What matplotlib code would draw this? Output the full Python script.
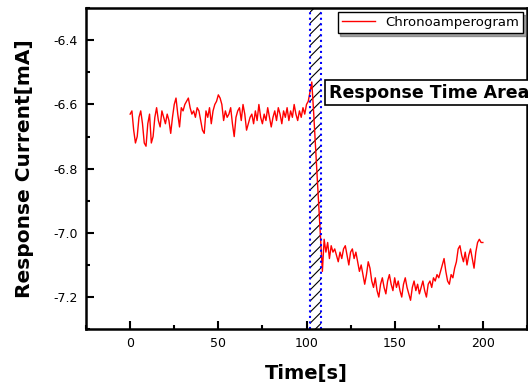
import numpy as np
import matplotlib
matplotlib.use("Agg")
import matplotlib.pyplot as plt
from matplotlib.ticker import MultipleLocator

# time axis, one sample per second
time_s = np.arange(0, 201)

# chronoamperogram current [mA]
current_ma = [
    -6.63, -6.62, -6.68, -6.72, -6.70, -6.64, -6.62, -6.66, -6.72, -6.73,
    -6.66, -6.63, -6.72, -6.70, -6.64, -6.61, -6.65, -6.67, -6.62, -6.64,
    -6.66, -6.63, -6.65, -6.69, -6.64, -6.60, -6.58, -6.63, -6.67, -6.61,
    -6.62, -6.60, -6.59, -6.58, -6.61, -6.63, -6.62, -6.64, -6.61, -6.62,
    -6.65, -6.68, -6.69, -6.62, -6.64, -6.61, -6.66, -6.62, -6.60, -6.59,
    -6.57, -6.58, -6.60, -6.65, -6.62, -6.64, -6.63, -6.61, -6.66, -6.70,
    -6.64, -6.62, -6.61, -6.65, -6.60, -6.63, -6.68, -6.66, -6.64, -6.63,
    -6.66, -6.62, -6.65, -6.60, -6.64, -6.66, -6.63, -6.65, -6.61, -6.64,
    -6.67, -6.64, -6.62, -6.65, -6.61, -6.63, -6.66, -6.62, -6.64, -6.61,
    -6.65, -6.62, -6.64, -6.60, -6.63, -6.65, -6.62, -6.64, -6.61, -6.63,
    -6.60, -6.59, -6.56, -6.53, -6.62, -6.72, -6.82, -6.92, -7.02, -7.12,
    -7.02, -7.06, -7.03, -7.08, -7.04, -7.06, -7.05, -7.07, -7.09, -7.06,
    -7.08, -7.05, -7.04, -7.07, -7.10, -7.06, -7.05, -7.08, -7.06, -7.09,
    -7.12, -7.10, -7.13, -7.16, -7.13, -7.09, -7.11, -7.15, -7.17, -7.14,
    -7.18, -7.20, -7.16, -7.14, -7.17, -7.19, -7.15, -7.13, -7.16, -7.18,
    -7.14, -7.17, -7.15, -7.18, -7.20, -7.16, -7.14, -7.17, -7.19, -7.21,
    -7.17, -7.15, -7.18, -7.16, -7.19, -7.17, -7.15, -7.18, -7.20, -7.16,
    -7.15, -7.17, -7.14, -7.15, -7.13, -7.14, -7.12, -7.10, -7.08, -7.12,
    -7.15, -7.16, -7.13, -7.14, -7.11, -7.09, -7.05, -7.04, -7.07, -7.09,
    -7.06, -7.10, -7.07, -7.05, -7.08, -7.11, -7.06, -7.03, -7.02, -7.03,
    -7.03,
]

# response time window [s]
response_start = 102
response_end = 108.5

plt.rcParams['font.family'] = ['DejaVu Sans']
plt.rcParams['hatch.linewidth'] = 0.8

fig = plt.figure(figsize=(5.28, 3.9), dpi=100)
ax = fig.add_axes([0.163, 0.156, 0.835, 0.823])

ax.plot(time_s, current_ma, color='red', lw=1.0, label='Chronoamperogram')

# hatched response time area with dotted blue borders
ax.axvspan(response_start, response_end, fill=False, hatch='///',
           edgecolor='black', linewidth=0)
ax.axvline(response_start, color='blue', ls=':', lw=1.5)
ax.axvline(response_end, color='blue', ls=':', lw=1.5)

ax.text(112.5, -6.563, 'Response Time Area', fontsize=12.5, fontweight='bold',
        va='center', ha='left',
        bbox=dict(boxstyle='square,pad=0.2', facecolor='white',
                  edgecolor='black', lw=1.2))

ax.set_xlim(-25, 225)
ax.set_ylim(-7.3, -6.3)
ax.xaxis.set_major_locator(MultipleLocator(50))
ax.xaxis.set_minor_locator(MultipleLocator(25))
ax.yaxis.set_major_locator(MultipleLocator(0.2))
ax.yaxis.set_minor_locator(MultipleLocator(0.1))
ax.yaxis.set_major_formatter(plt.FormatStrFormatter('%.1f'))

ax.tick_params(which='both', direction='in', width=1.5, labelsize=9)
ax.tick_params(axis='x', which='major', pad=6)
ax.tick_params(axis='y', which='major', pad=6)
ax.tick_params(which='major', length=6)
ax.tick_params(which='minor', length=3)
for sp in ax.spines.values():
    sp.set_linewidth(1.8)

ax.set_xlabel('Time[s]', fontsize=14, fontweight='bold', labelpad=10)
ax.set_ylabel('Response Current[mA]', fontsize=14.5, fontweight='bold', labelpad=14)

leg = ax.legend(loc='upper right', fontsize=9.5, fancybox=False, shadow=True,
                framealpha=1, edgecolor='black', borderaxespad=0.3,
                handlelength=2.5, borderpad=0.3)
leg.get_frame().set_linewidth(1.0)

fig.savefig('out.png', dpi=100)
